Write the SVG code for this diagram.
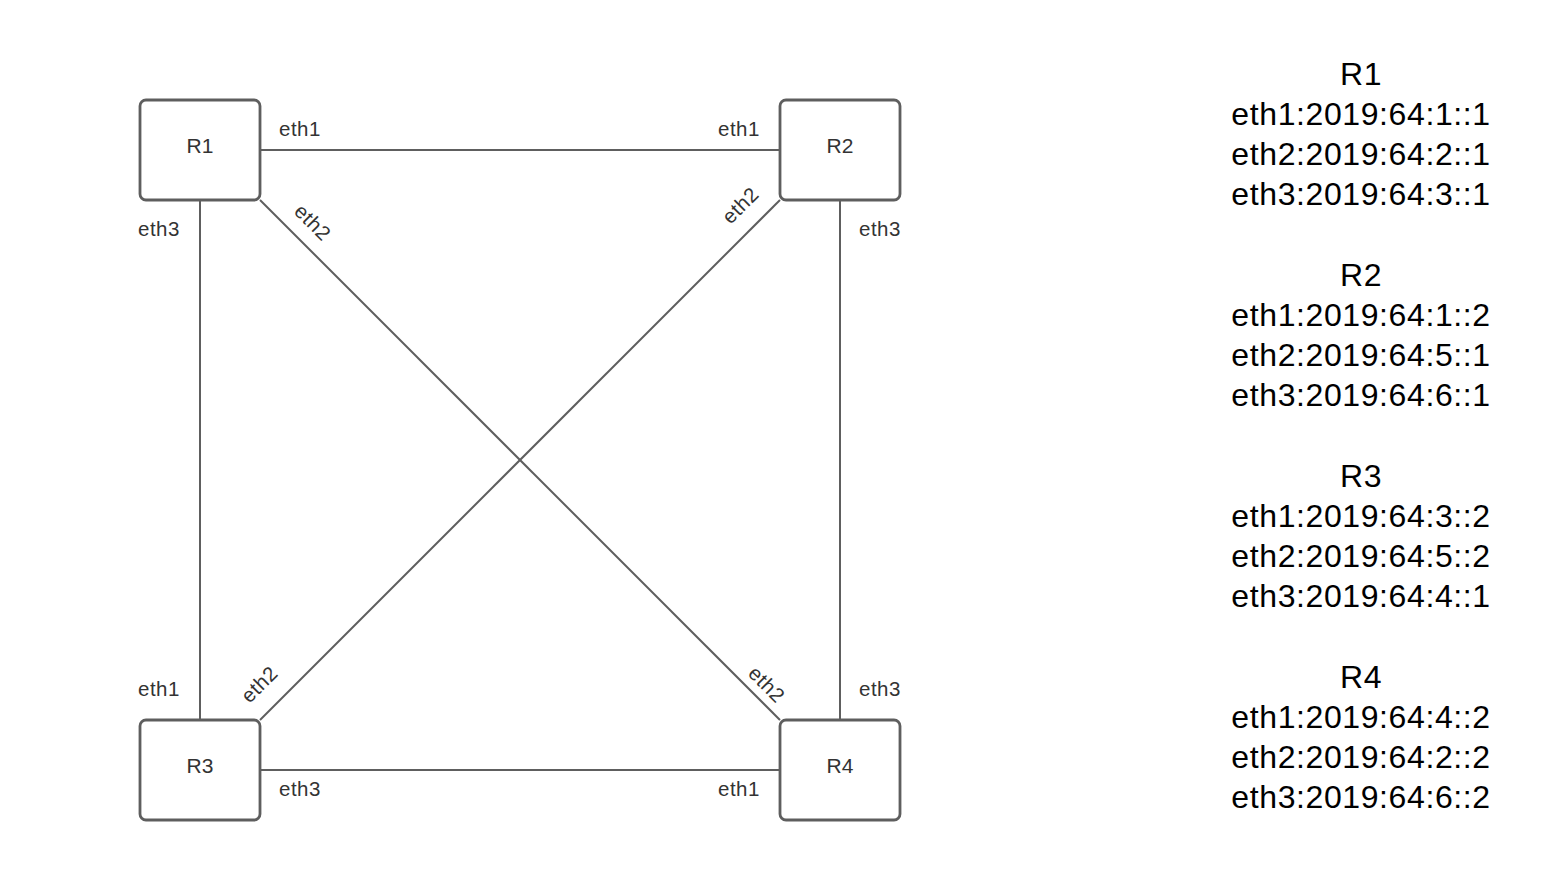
<svg xmlns="http://www.w3.org/2000/svg" width="1560" height="895" viewBox="0 0 1560 895">
<style>
.box{fill:#fff;stroke:#5e5e5e;stroke-width:2.8}
.ln{stroke:#5e5e5e;stroke-width:2;fill:none}
.lbl{font-family:"Liberation Sans",Arial,sans-serif;font-size:20.5px;letter-spacing:0.5px;fill:#333}
.rl{text-anchor:middle;dominant-baseline:central}
.nt{font-family:"Liberation Sans",Arial,sans-serif;font-size:21px;fill:#333;text-anchor:middle}
.info{font-family:"Liberation Sans",Arial,sans-serif;font-size:32px;letter-spacing:0.6px;fill:#000;text-anchor:middle}
</style>
<rect width="1560" height="895" fill="#fff"/>
<g id="connectors">
<line class="ln" x1="260" y1="150" x2="780" y2="150"/>
<line class="ln" x1="200" y1="200" x2="200" y2="720"/>
<line class="ln" x1="840" y1="200" x2="840" y2="720"/>
<line class="ln" x1="260" y1="770" x2="780" y2="770"/>
<line class="ln" x1="260" y1="200" x2="780" y2="720"/>
<line class="ln" x1="780" y1="200" x2="260" y2="720"/>
<text class="lbl" x="279" y="136">eth1</text>
<text class="lbl" x="718" y="136">eth1</text>
<text class="lbl" x="138" y="236">eth3</text>
<text class="lbl" x="859" y="236">eth3</text>
<text class="lbl" x="138" y="696">eth1</text>
<text class="lbl" x="859" y="696">eth3</text>
<text class="lbl" x="279" y="796">eth3</text>
<text class="lbl" x="718" y="796">eth1</text>
<text class="lbl rl" transform="translate(313,222) rotate(45)">eth2</text>
<text class="lbl rl" transform="translate(740,205) rotate(-45)">eth2</text>
<text class="lbl rl" transform="translate(259,684) rotate(-45)">eth2</text>
<text class="lbl rl" transform="translate(767,684) rotate(45)">eth2</text>
</g>
<g id="R1"><rect class="box" x="140" y="100" width="120" height="100" rx="6"/><text class="nt" x="200" y="153">R1</text></g>
<g id="R2"><rect class="box" x="780" y="100" width="120" height="100" rx="6"/><text class="nt" x="840" y="153">R2</text></g>
<g id="R3"><rect class="box" x="140" y="720" width="120" height="100" rx="6"/><text class="nt" x="200" y="773">R3</text></g>
<g id="R4"><rect class="box" x="780" y="720" width="120" height="100" rx="6"/><text class="nt" x="840" y="773">R4</text></g>
<g id="info">
<text class="info" x="1361" y="85">R1</text>
<text class="info" x="1361" y="125">eth1:2019:64:1::1</text>
<text class="info" x="1361" y="165">eth2:2019:64:2::1</text>
<text class="info" x="1361" y="205">eth3:2019:64:3::1</text>
<text class="info" x="1361" y="286">R2</text>
<text class="info" x="1361" y="326">eth1:2019:64:1::2</text>
<text class="info" x="1361" y="366">eth2:2019:64:5::1</text>
<text class="info" x="1361" y="406">eth3:2019:64:6::1</text>
<text class="info" x="1361" y="487">R3</text>
<text class="info" x="1361" y="527">eth1:2019:64:3::2</text>
<text class="info" x="1361" y="567">eth2:2019:64:5::2</text>
<text class="info" x="1361" y="607">eth3:2019:64:4::1</text>
<text class="info" x="1361" y="688">R4</text>
<text class="info" x="1361" y="728">eth1:2019:64:4::2</text>
<text class="info" x="1361" y="768">eth2:2019:64:2::2</text>
<text class="info" x="1361" y="808">eth3:2019:64:6::2</text>
</g>
</svg>
